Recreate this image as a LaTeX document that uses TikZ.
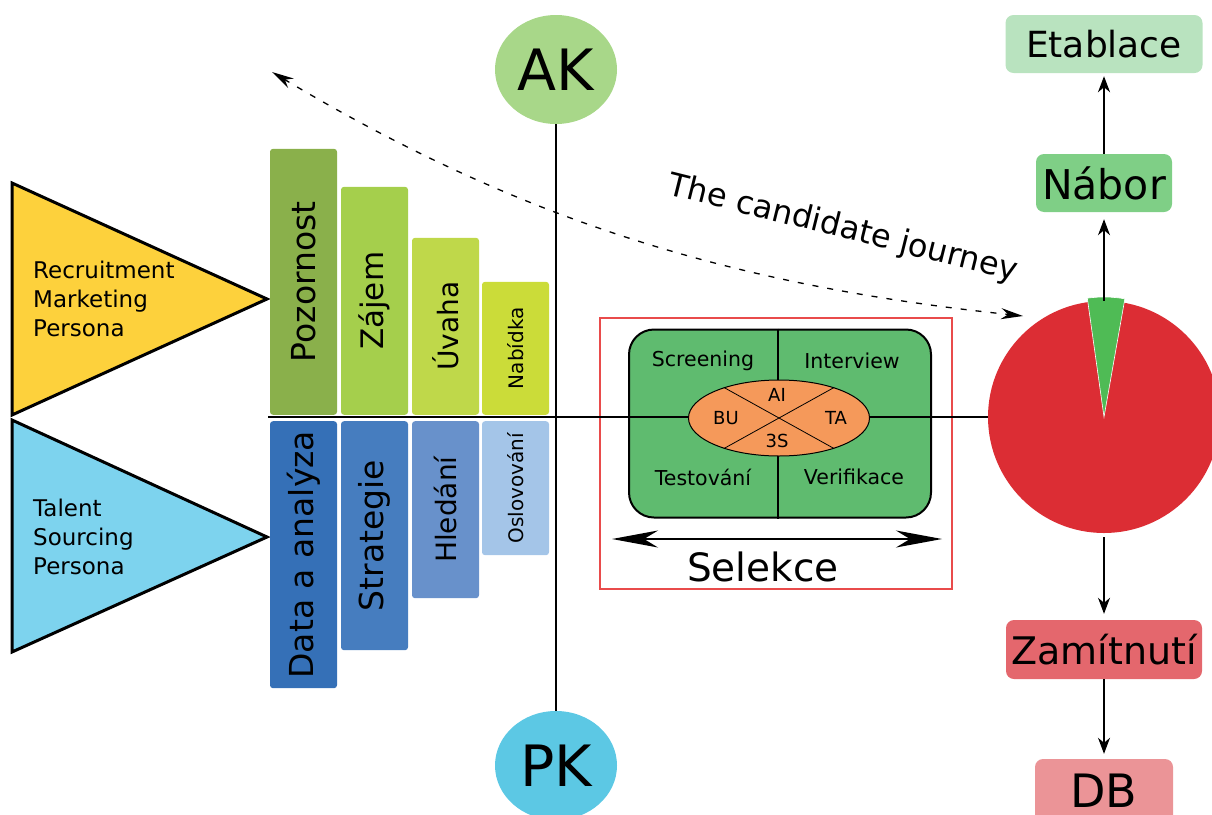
\documentclass[tikz,border=0pt]{standalone}
\usepackage{fontspec}
\setmainfont{DejaVu Sans}
\usepackage{tikz}
\usetikzlibrary{arrows.meta}
\usetikzlibrary{shapes.geometric}
\newcommand{\fsz}[1]{\fontsize{#1}{#1}\selectfont}
\tikzset{bar/.style = {rotate = 90, rounded corners = 3pt, minimum height = 67,
                       inner sep = 0pt},
         box/.style = {rounded corners = 8pt, inner sep = 0pt},
         pill/.style = {ellipse, minimum width = 122, minimum height = 109,
                        inner sep = 0pt, font = \fsz{57}},
         tri/.style = {line width = 3pt, line join = miter},
         arr/.style = {-{Stealth[length = 16pt, width = 12pt, inset = 5pt]},
                       line width = 1.5pt},
         journey/.style = {{Stealth[length = 22pt, width = 11pt, inset = 7pt]}-{Stealth[length = 22pt, width = 11pt, inset = 7pt]},
                           dash pattern = on 6pt off 9pt, line width = 1.3pt},
         selarr/.style = {{Stealth[length = 46pt, width = 17pt, inset = 14pt]}-{Stealth[length = 46pt, width = 17pt, inset = 14pt]},
                          line width = 2pt}}
\definecolor{mak}{HTML}{A8D789}
\definecolor{mpk}{HTML}{5CC8E4}
\definecolor{myellow}{HTML}{FDD13C}
\definecolor{mcyan}{HTML}{7DD3EE}
\definecolor{mpoz}{HTML}{8AB04B}
\definecolor{mzaj}{HTML}{A5CF4C}
\definecolor{muva}{HTML}{BFD84A}
\definecolor{mnab}{HTML}{CBDC39}
\definecolor{mdat}{HTML}{3570B7}
\definecolor{mstr}{HTML}{467DBF}
\definecolor{mhle}{HTML}{6891CB}
\definecolor{mosl}{HTML}{A4C5E8}
\definecolor{mstage}{HTML}{5FBB6F}
\definecolor{mcore}{HTML}{F5995A}
\definecolor{mframe}{HTML}{E94B4B}
\definecolor{mred}{HTML}{DC2D34}
\definecolor{mwedge}{HTML}{4FBB55}
\definecolor{metab}{HTML}{B9E3BF}
\definecolor{mnabor}{HTML}{7FCF86}
\definecolor{mzam}{HTML}{E4676D}
\definecolor{mdb}{HTML}{EB9497}

\begin{document}
\begin{tikzpicture}[x = 1pt, y = -1pt]
      \useasboundingbox (0, 0) rectangle (1212, 814);
      \filldraw [tri, fill = myellow] (12, 183) -- (267, 299) -- (12, 415) -- cycle;
      \filldraw [tri, fill = mcyan] (12, 420) -- (267, 537) -- (12, 652) -- cycle;
      \node (rmp) [anchor = west, align = left, inner sep = 0pt, font = \fsz{23}] at (33, 299)
            {Recruitment\\[6pt]Marketing\\[6pt]Persona};
      \node (tsp) [anchor = west, align = left, inner sep = 0pt, font = \fsz{23}] at (33, 537)
            {Talent\\[6pt]Sourcing\\[6pt]Persona};
      \foreach \x/\h/\c/\s/\t [count = \i] in {303.5/266/mpoz/33/Pozornost, 374.5/228/mzaj/31/Zájem,
                                               445.5/177/muva/28/Úvaha, 515.5/133/mnab/20/Nabídka}
            \node (up\i) [bar, fill = \c, minimum width = \h, anchor = west, font = \fsz{\s}] at (\x, 415) {\t};
      \foreach \x/\h/\c/\s/\t [count = \i] in {303.5/267/mdat/33/Data a analýza, 374.5/229/mstr/33/Strategie,
                                               445.5/177/mhle/28/Hledání, 515.5/134/mosl/20/Oslovování}
            \node (down\i) [bar, fill = \c, minimum width = \h, anchor = east, font = \fsz{\s}] at (\x, 421) {\t};
      \node (ak) [pill, fill = mak] at (556, 69.5) {AK};
      \node (pk) [pill, fill = mpk] at (556, 765.5) {PK};
      \draw [line width = 2pt] (ak) -- (pk);
      \node (selbox) [draw = mframe, line width = 1.3pt, minimum width = 352, minimum height = 271]
            at (776, 453.5) {};
      \node (stage) [draw, fill = mstage, line width = 2pt, rounded corners = 25pt,
                     minimum width = 302, minimum height = 188] at (780, 423.5) {};
      \coordinate (lstart) at (268, 417);
      \node (pie) [circle, fill = mred, minimum size = 232, inner sep = 0pt] at (1104, 417) {};
      \draw [line width = 1.2pt] (lstart) -- (pie.west);
      \draw [line width = 1.2pt] (stage.north -| 778, 0) -- (stage.south -| 778, 0);
      \node (core) [ellipse, draw, fill = mcore, line width = 1pt, minimum width = 181,
                    minimum height = 76] at (779, 418) {};
      \draw [line width = 0.8pt] (core.151) -- (core.-29);
      \draw [line width = 0.8pt] (core.29) -- (core.-151);
      \node (ai) [font = \fsz{18}] at (777, 395) {AI};
      \node (bu) [font = \fsz{18}] at (726, 418) {BU};
      \node (ta) [font = \fsz{18}] at (836, 418) {TA};
      \node (ss) [font = \fsz{18}] at (777, 441) {3S};
      \node (scr) [font = \fsz{20.5}] at (703, 361) {Screening};
      \node (int) [font = \fsz{20.5}] at (852, 361) {Interview};
      \node (tes) [font = \fsz{20.5}] at (703, 477) {Testování};
      \node (ver) [font = \fsz{20.5}] at (854, 477) {Verifikace};
      \coordinate (sell) at (612, 539);
      \coordinate (selr) at (942, 539);
      \draw [selarr] (sell) -- (selr);
      \node (sel) [font = \fsz{39}] at (763, 567) {Selekce};
      \filldraw [fill = mwedge, draw = white, line width = 0.6pt] (pie.center) -- ++(80:120pt)
            arc [start angle = 80, end angle = 98, radius = 120pt] -- cycle;
      \coordinate (jleft) at (272, 72);
      \coordinate (jright) at (1023, 316);
      \draw [journey] (jleft) .. controls (520, 220) and (730, 285) .. (jright);
      \node (jtext) [rotate = -14, font = \fsz{32}] at (843, 229) {The candidate journey};
      \node (etab) [box, fill = metab, minimum width = 197, minimum height = 58, font = \fsz{36}]
            at (1104, 44) {Etablace};
      \node (nabor) [box, fill = mnabor, minimum width = 136, minimum height = 58, font = \fsz{41}]
            at (1104, 183) {Nábor};
      \node (zam) [box, fill = mzam, minimum width = 196, minimum height = 59, font = \fsz{38}]
            at (1104, 649.5) {Zamítnutí};
      \node (db) [box, fill = mdb, minimum width = 138, minimum height = 64, font = \fsz{46}]
            at (1104, 791) {DB};
      \draw [arr, line width = 1.2pt, shorten > = 7pt] (pie.north) -- (nabor.south);
      \draw [arr, line width = 2pt, shorten > = 3pt] (nabor.north) -- (etab.south);
      \draw [arr, line width = 1.2pt, shorten < = 4pt, shorten > = 6pt] (pie.south) -- (zam.north);
      \draw [arr, line width = 1.2pt, shorten > = 5pt] (zam.south) -- (db.north);
    \end{tikzpicture}
\end{document}
